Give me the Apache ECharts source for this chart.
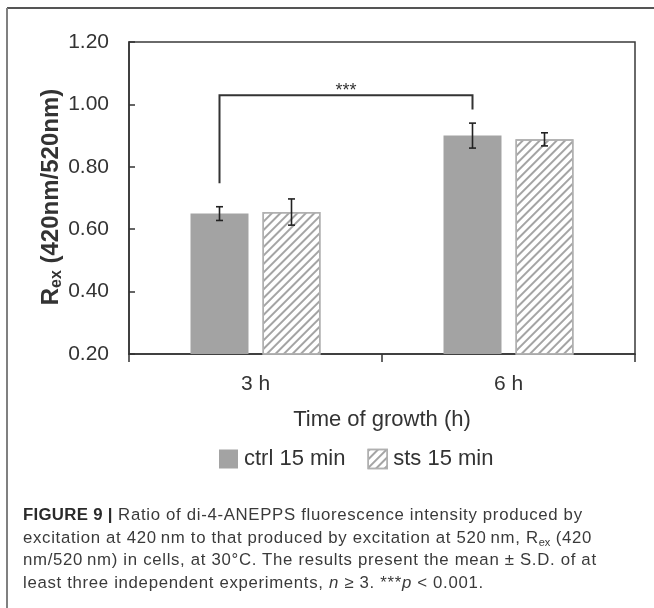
<!DOCTYPE html>
<html><head><meta charset="utf-8">
<script src="https://cdn.jsdelivr.net/npm/echarts@6/dist/echarts.min.js"></script>
<style>
html,body{margin:0;padding:0;background:#fff;}
#chart{width:654px;height:608px;position:absolute;left:0;top:0;}
#cap{position:absolute;left:23px;top:504px;font-family:"Liberation Sans",Arial,sans-serif;font-size:16.8px;letter-spacing:0.68px;line-height:22.6px;color:#3a3a3a;white-space:nowrap;}
#cap b{color:#2a2a2a;letter-spacing:0.3px;}
#cap sub{font-size:11px;vertical-align:-3px;line-height:0;letter-spacing:0;}
</style></head><body>
<div id="chart"></div>
<div id="cap"><b>FIGURE 9 |</b> Ratio of di-4-ANEPPS fluorescence intensity produced by<br>excitation at 420&thinsp;nm to that produced by excitation at 520&thinsp;nm, R<sub>ex</sub> (420<br>nm/520&thinsp;nm) in cells, at 30°C. The results present the mean ± S.D. of at<br>least three independent experiments, <i>n</i> ≥ 3. ***<i>p</i> &lt; 0.001.</div>
<script>
// ---- data ----
const categories = ['3 h', '6 h'];
const seriesNames = ['ctrl 15 min', 'sts 15 min'];
const ctrlValues = [0.650, 0.900];
const ctrlErrors = [0.022, 0.040];
const stsValues = [0.655, 0.888];
const stsErrors = [0.042, 0.021];
const yMin = 0.2, yMax = 1.2, yStep = 0.2;
// significance bracket: [left foot, top, right foot], between ctrl 3 h and ctrl 6 h
const bracketLevels = [0.747, 1.029, 0.984];
const bracketLabelLevel = 1.043;
const sigLabel = '***';
const xTitle = 'Time of growth (h)';

// ---- styles ----
const FONT = '"Liberation Sans", Arial, sans-serif';
const TXT = '#333';
const BAR_W = 58, BAR_GAP = 14;
const OFF = (BAR_W + BAR_GAP) / 2;

const chart = echarts.init(document.getElementById('chart'), null, {renderer: 'canvas'});

function errItem(offset) {
  return function (params, api) {
    const c = api.value(0), v = api.value(1), e = api.value(2);
    const top = api.coord([c, v + e]);
    const bot = api.coord([c, v - e]);
    const x = top[0] + offset;
    const cap = 3.5;
    const st = {stroke: '#222', lineWidth: 1.6};
    return {type: 'group', children: [
      {type: 'line', shape: {x1: x, y1: top[1], x2: x, y2: bot[1]}, style: st},
      {type: 'line', shape: {x1: x - cap, y1: top[1], x2: x + cap, y2: top[1]}, style: st},
      {type: 'line', shape: {x1: x - cap, y1: bot[1], x2: x + cap, y2: bot[1]}, style: st}
    ]};
  };
}

const hatchDecal = {
  symbol: 'rect', symbolSize: 1,
  dashArrayX: [1, 0], dashArrayY: [1.9, 3.9],
  rotation: -Math.PI / 4,
  color: '#a4a4a4'
};

const option = {
  backgroundColor: '#fff',
  animation: false,
  textStyle: {fontFamily: FONT},
  grid: {left: 129, right: 19, top: 42, bottom: 254, show: true, borderColor: '#3a3a3a', borderWidth: 1.5, backgroundColor: 'transparent'},
  xAxis: {
    type: 'category', data: categories,
    axisLine: {lineStyle: {color: '#333', width: 1.5}},
    axisTick: {show: true, inside: false, length: 8, alignWithLabel: false, lineStyle: {color: '#333', width: 1.5}},
    axisLabel: {fontSize: 21, color: TXT, margin: 20, fontFamily: FONT},
    name: xTitle, nameLocation: 'middle', nameGap: 55,
    nameTextStyle: {fontSize: 22, color: TXT, fontFamily: FONT}
  },
  yAxis: {
    type: 'value', min: yMin, max: yMax, interval: yStep,
    axisLine: {show: true, lineStyle: {color: '#333', width: 1.5}},
    axisTick: {show: true, inside: true, length: 6, lineStyle: {color: '#333', width: 1.5}},
    splitLine: {show: false},
    axisLabel: {fontSize: 21, color: TXT, margin: 20, fontFamily: FONT, formatter: v => v.toFixed(2)}
  },
  legend: {
    left: 214, top: 443, itemWidth: 19, itemHeight: 19, itemGap: 22, icon: 'rect',
    textStyle: {fontSize: 22, color: TXT, fontFamily: FONT, padding: [0, 0, 0, 1]},
    data: [
      {name: seriesNames[0]},
      {name: seriesNames[1], itemStyle: {borderColor: '#b0b0b0', borderWidth: 1.5}}
    ]
  },
  graphic: [
    {type: 'line', shape: {x1: 7, y1: 8, x2: 654, y2: 8}, style: {stroke: '#555', lineWidth: 2}, silent: true},
    {type: 'line', shape: {x1: 7, y1: 8, x2: 7, y2: 608}, style: {stroke: '#808080', lineWidth: 2}, silent: true},
    {type: 'text', x: 51, y: 197, rotation: Math.PI / 2,
      style: {text: '{b|R}{s|ex}{b| (420nm/520nm)}', align: 'center', verticalAlign: 'middle', fill: TXT,
        rich: {
          b: {fontSize: 24, fontWeight: 'bold', fontFamily: FONT, fill: TXT, lineHeight: 30},
          s: {fontSize: 16, fontWeight: 'bold', fontFamily: FONT, fill: TXT, lineHeight: 30, padding: [12, 0, 0, 0]}
        }}}
  ],
  series: [
    {name: seriesNames[0], type: 'bar', data: ctrlValues, barWidth: BAR_W, barGap: (BAR_GAP / BAR_W * 100) + '%',
      itemStyle: {color: '#a3a3a3'}},
    {name: seriesNames[1], type: 'bar', data: stsValues, barWidth: BAR_W,
      itemStyle: {color: '#ffffff', borderColor: '#b0b0b0', borderWidth: 1.5, decal: hatchDecal}},
    {type: 'custom', name: 'err-ctrl', renderItem: errItem(-OFF), z: 10,
      data: ctrlValues.map((v, i) => [i, v, ctrlErrors[i]]), encode: {x: 0, y: 1}, tooltip: {show: false}},
    {type: 'custom', name: 'err-sts', renderItem: errItem(OFF), z: 10,
      data: stsValues.map((v, i) => [i, v, stsErrors[i]]), encode: {x: 0, y: 1}, tooltip: {show: false}},
    {type: 'custom', name: 'sig', z: 10,
      data: [[0, 1, bracketLevels[0], bracketLevels[1], bracketLevels[2], bracketLabelLevel]],
      encode: {x: 0, y: 3},
      renderItem: function (params, api) {
        const a = api.value(0), b = api.value(1);
        const p1 = api.coord([a, api.value(2)]);
        const p2 = api.coord([a, api.value(3)]);
        const p3 = api.coord([b, api.value(3)]);
        const p4 = api.coord([b, api.value(4)]);
        const lab = api.coord([a, api.value(5)]);
        const xa = p1[0] - OFF, xb = p3[0] - OFF;
        return {type: 'group', children: [
          {type: 'polyline', shape: {points: [[xa, p1[1]], [xa, p2[1]], [xb, p3[1]], [xb, p4[1]]]},
            style: {stroke: '#333', lineWidth: 2, fill: null}},
          {type: 'text', x: (xa + xb) / 2, y: lab[1],
            style: {text: sigLabel, fontSize: 18, fontFamily: FONT, fill: '#333', align: 'center', verticalAlign: 'middle'}}
        ]};
      }}
  ]
};
chart.setOption(option);
</script>
</body></html>
